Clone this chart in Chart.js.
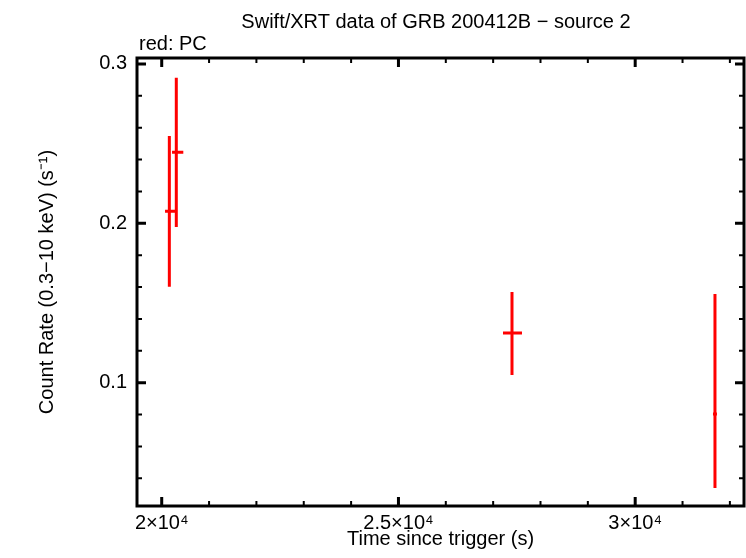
<!DOCTYPE html>
<html>
<head>
<meta charset="utf-8">
<script src="https://cdn.jsdelivr.net/npm/chart.js@4/dist/chart.umd.min.js"></script>
<style>
  html, body { margin: 0; padding: 0; background: #fff; }
  #wrap { width: 746px; height: 558px; }
</style>
</head>
<body>
<div id="wrap"><canvas id="lcChart"></canvas></div>
<script>
// light curve of source 2, PC mode only
const tMid = [20161, 20308, 27398, 31685]
const tLo = [20070, 20218, 27208, 31643]
const tHi = [20302, 20456, 27609, 31727]
const rate = [0.2075, 0.2445, 0.1312, 0.0804]
const rateLo = [0.1602, 0.1977, 0.1048, 0.0339]
const rateHi = [0.2548, 0.2913, 0.1569, 0.1556]

// axes
const xMajor = [20000, 25000, 30000]
const xLabels = ['2×10⁴', '2.5×10⁴', '3×10⁴']
const xMinor = [21000, 22000, 23000, 24000, 26000, 27000, 28000, 29000, 31000, 32000]
const yMajor = [0.1, 0.2, 0.3]
const yLabels = ['0.1', '0.2', '0.3']
const yMinor = [0.04, 0.06, 0.08, 0.12, 0.14, 0.16, 0.18, 0.22, 0.24, 0.26, 0.28]

const FONT = '"Liberation Sans", Arial, Helvetica, sans-serif'

const frameAndBars = {
  id: 'frameAndBars',
  afterDatasetsDraw(chart) {
    const ctx = chart.ctx
    const x = chart.scales.x
    const y = chart.scales.y
    ctx.save()
    ctx.strokeStyle = 'rgb(255, 0, 0)'
    ctx.lineWidth = 3
    ctx.lineCap = 'butt'
    for (let i = 0; i < tMid.length; i++) {
      const px = x.getPixelForValue(tMid[i])
      const py = y.getPixelForValue(rate[i])
      ctx.beginPath()
      ctx.moveTo(px, y.getPixelForValue(rateLo[i]))
      ctx.lineTo(px, y.getPixelForValue(rateHi[i]))
      ctx.moveTo(x.getPixelForValue(tLo[i]), py)
      ctx.lineTo(x.getPixelForValue(tHi[i]), py)
      ctx.stroke()
    }
    ctx.restore()
  },
  afterDraw(chart) {
    const ctx = chart.ctx
    const a = chart.chartArea
    const x = chart.scales.x
    const y = chart.scales.y
    ctx.save()
    ctx.strokeStyle = '#000'

    // ticks pointing inwards, on all four sides
    const tick = (vals, len, w) => {
      ctx.lineWidth = w
      ctx.beginPath()
      vals.forEach(v => {
        const px = x.getPixelForValue(v)
        ctx.moveTo(px, a.bottom); ctx.lineTo(px, a.bottom - len)
        ctx.moveTo(px, a.top); ctx.lineTo(px, a.top + len)
      })
      ctx.stroke()
    }
    const ytick = (vals, len, w) => {
      ctx.lineWidth = w
      ctx.beginPath()
      vals.forEach(v => {
        const py = y.getPixelForValue(v)
        ctx.moveTo(a.left, py); ctx.lineTo(a.left + len, py)
        ctx.moveTo(a.right, py); ctx.lineTo(a.right - len, py)
      })
      ctx.stroke()
    }
    tick(xMajor, 9, 3)
    tick(xMinor, 5, 2)
    ytick(yMajor, 9, 3)
    ytick(yMinor, 5, 2)

    ctx.lineWidth = 3
    ctx.strokeRect(a.left, a.top, a.right - a.left, a.bottom - a.top)

    // texts
    ctx.fillStyle = '#000'
    ctx.font = '20px ' + FONT
    ctx.textBaseline = 'alphabetic'
    ctx.textAlign = 'center'
    ctx.fillText('Swift/XRT data of GRB 200412B − source 2', 436, 28)
    ctx.fillText('Time since trigger (s)', (a.left + a.right) / 2, 545)
    ctx.textAlign = 'left'
    ctx.fillText('red: PC', 139, 50)

    ctx.translate(53, (a.top + a.bottom) / 2)
    ctx.rotate(-Math.PI / 2)
    ctx.textAlign = 'center'
    ctx.fillText('Count Rate (0.3−10 keV) (s⁻¹)', 0, 0)
    ctx.restore()
  }
}

const data = {
  datasets: [{
    label: 'PC',
    data: tMid.map((t, i) => ({ x: t, y: rate[i] })),
    pointRadius: 0,
    showLine: false,
    borderColor: 'rgb(255, 0, 0)',
    backgroundColor: 'rgb(255, 0, 0)'
  }]
}

const config = {
  type: 'scatter',
  data: data,
  options: {
    responsive: false,
    animation: false,
    devicePixelRatio: 1,
    layout: { padding: { top: 58, right: 2, bottom: 0, left: 0 } },
    plugins: {
      legend: { display: false },
      tooltip: { enabled: false },
      title: { display: false }
    },
    scales: {
      x: {
        type: 'linear',
        min: 19478,
        max: 32298,
        grid: { display: false, drawTicks: false },
        border: { display: false },
        afterBuildTicks: s => { s.ticks = xMajor.map(v => ({ value: v })) },
        afterFit: s => { s.height = 52 },
        ticks: {
          padding: 5,
          maxRotation: 0,
          autoSkip: false,
          color: '#000',
          font: { family: FONT, size: 20 },
          callback: (v, i) => xLabels[i]
        }
      },
      y: {
        type: 'linear',
        min: 0.0226,
        max: 0.3037,
        grid: { display: false, drawTicks: false },
        border: { display: false },
        afterBuildTicks: s => { s.ticks = yMajor.map(v => ({ value: v })) },
        afterFit: s => { s.width = 137 },
        ticks: {
          padding: 10,
          autoSkip: false,
          color: '#000',
          font: { family: FONT, size: 20 },
          callback: (v, i) => yLabels[i]
        }
      }
    }
  },
  plugins: [frameAndBars]
}

const canvas = document.querySelector('#lcChart')
canvas.width = 746
canvas.height = 558
const lcChart = new Chart(canvas, config)
</script>
</body>
</html>
